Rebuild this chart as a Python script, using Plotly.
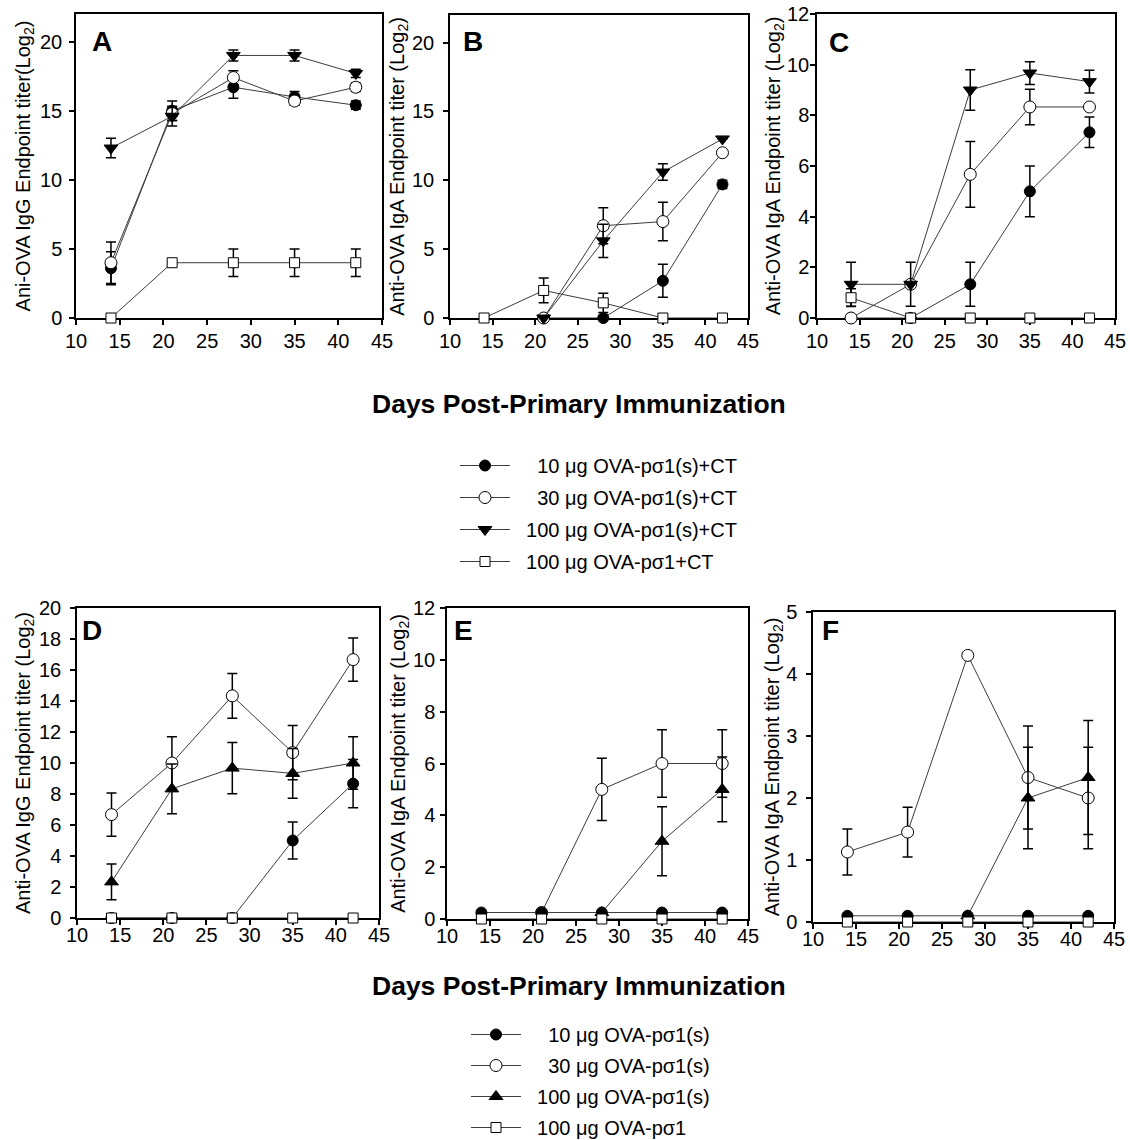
import plotly.graph_objects as go

# ---------------- data ----------------
days = [14, 21, 28, 35, 42]

# Panel A: IgG, with CT
a_10 = [3.6, 15.0, 16.7, 16.0, 15.4]
a_10_err = [1.2, 0.7, 0.8, 0.4, 0.3]
a_30 = [4.0, 14.8, 17.4, 15.7, 16.7]
a_30_err = [1.5, 0.5, 0.5, 0.3, 0.3]
a_100 = [12.3, 14.6, 19.0, 19.0, 17.7]
a_100_err = [0.7, 0.7, 0.4, 0.4, 0.3]
a_p = [0, 4, 4, 4, 4]
a_p_err = [0, 0, 1, 1, 1]

# Panel B: IgA, with CT
b_10 = [None, 0, 0, 2.7, 9.7]
b_10_err = [0, 0, 0, 1.2, 0.3]
b_30 = [None, 0, 6.7, 7.0, 12.0]
b_30_err = [0, 0, 1.3, 1.4, 0]
b_100 = [None, 0, 5.6, 10.6, 13.0]
b_100_err = [0, 0, 1.2, 0.6, 0]
b_p = [0, 2.0, 1.1, 0, 0]
b_p_err = [0, 0.9, 0.7, 0, 0]

# Panel C: IgA, with CT
c_10 = [0, 0, 1.33, 5.0, 7.33]
c_10_err = [0, 0, 0.87, 1.0, 0.6]
c_30 = [0, 1.33, 5.67, 8.33, 8.33]
c_30_err = [0, 0, 1.3, 0.7, 0]
c_100 = [1.33, 1.33, 9.0, 9.67, 9.33]
c_100_err = [0.87, 0.87, 0.8, 0.45, 0.45]
c_p = [0.8, 0, 0, 0, 0]
c_p_err = [0.35, 0, 0, 0, 0]

# Panel D: IgG, without CT
d_10 = [0, 0, 0, 5.0, 8.67]
d_10_err = [0, 0, 0, 1.2, 1.55]
d_30 = [6.67, 10.0, 14.33, 10.67, 16.67]
d_30_err = [1.4, 1.7, 1.45, 1.75, 1.4]
d_100 = [2.33, 8.33, 9.67, 9.33, 10.0]
d_100_err = [1.15, 1.6, 1.65, 1.6, 1.7]
d_p = [0, 0, 0, 0, 0]
d_p_err = [0, 0, 0, 0, 0]

# Panel E: IgA, without CT
e_10 = [0.25, 0.25, 0.25, 0.25, 0.25]
e_10_err = [0, 0, 0, 0, 0]
e_30 = [None, 0.25, 5.0, 6.0, 6.0]
e_30_err = [0, 0, 1.2, 1.3, 1.3]
e_100 = [None, None, 0.25, 3.0, 5.0]
e_100_err = [0, 0, 0, 1.33, 1.25]
e_p = [0, 0, 0, 0, 0]
e_p_err = [0, 0, 0, 0, 0]

# Panel F: IgA, without CT
f_10 = [0.1, 0.1, 0.1, 0.1, 0.1]
f_10_err = [0, 0, 0, 0, 0]
f_30 = [1.13, 1.45, 4.3, 2.33, 2.0]
f_30_err = [0.37, 0.4, 0, 0.83, 0.82]
f_100 = [None, None, 0.1, 2.0, 2.33]
f_100_err = [0, 0, 0, 0.82, 0.92]
f_p = [0, 0, 0, 0, 0]
f_p_err = [0, 0, 0, 0, 0]

NB = "\u00a0"
top_names = [NB * 4 + "10 μg OVA-pσ1(s)+CT", NB * 4 + "30 μg OVA-pσ1(s)+CT",
             NB * 2 + "100 μg OVA-pσ1(s)+CT", NB * 2 + "100 μg OVA-pσ1+CT"]
bot_names = [NB * 4 + "10 μg OVA-pσ1(s)", NB * 4 + "30 μg OVA-pσ1(s)",
             NB * 2 + "100 μg OVA-pσ1(s)", NB * 2 + "100 μg OVA-pσ1"]

x_title = "Days Post-Primary Immunization"
y_titles = ["Ani-OVA IgG Endpoint titer(Log<sub>2</sub>)",
            "Anti-OVA IgA Endpoint titer (Log<sub>2</sub>)",
            "Anti-OVA IgA Endpoint titer (Log<sub>2</sub>)",
            "Anti-OVA IgG Endpoint titer (Log<sub>2</sub>)",
            "Anti-OVA IgA Endpoint titer (Log<sub>2</sub>)",
            "Anti-OVA IgA Endpoint titer (Log<sub>2</sub>)"]
panel_letters = ["A", "B", "C", "D", "E", "F"]
y_ranges = [22, 22, 12, 20, 12, 5]
y_dticks = [5, 5, 2, 2, 2, 1]

# ---------------- layout geometry (pixels from top-left) ----------------
W, H = 1130, 1170   # figure a little taller than the window; page is cropped at 1140
FONT = "Arial, Liberation Sans, sans-serif"
boxes = [  # x0, x1, ytop, ybottom
    (76, 382, 14, 318),
    (450, 748, 15, 318),
    (817, 1115, 14, 318),
    (77, 379, 608, 918),
    (447, 748, 608, 919),
    (813, 1114, 612, 922),
]
ylab_standoff = [3, 5, -3, 5, 1, 5]
ytitle_standoff = [4, 2, 0, 3, 2, 0]
xlab_standoff = [-1, -1, -1, -7, -7, -7]
letter_pos = [(90, 42), (461, 42), (827, 43), (80, 630), (452, 630), (820, 630)]

LINE_COL = "#3c3c3c"

styles = {
    "10": dict(symbol="circle", size=11, color="black"),
    "30": dict(symbol="circle", size=12, color="white"),
    "100t": dict(symbol="triangle-down", size=12, color="black"),
    "100b": dict(symbol="triangle-up", size=12, color="black"),
    "p": dict(symbol="square", size=10, color="white"),
}

fig = go.Figure()


def add(panel, y, err, key, name, group, legend, showlegend):
    st = styles[key]
    ax = "" if panel == 0 else str(panel + 1)
    fig.add_trace(go.Scatter(
        x=days, y=y,
        mode="lines+markers",
        line=dict(color=LINE_COL, width=1),
        marker=dict(symbol=st["symbol"], size=st["size"], color=st["color"],
                    line=dict(color="black", width=1)),
        error_y=dict(type="data", array=[e if e else None for e in err], visible=True,
                     color="black", thickness=1.5, width=5),
        xaxis="x" + ax, yaxis="y" + ax,
        cliponaxis=False,
        name=name, legendgroup=group, legend=legend, showlegend=showlegend,
    ))


top_data = [
    [(a_10, a_10_err, "10"), (a_30, a_30_err, "30"), (a_100, a_100_err, "100t"), (a_p, a_p_err, "p")],
    [(b_10, b_10_err, "10"), (b_30, b_30_err, "30"), (b_100, b_100_err, "100t"), (b_p, b_p_err, "p")],
    [(c_10, c_10_err, "10"), (c_30, c_30_err, "30"), (c_100, c_100_err, "100t"), (c_p, c_p_err, "p")],
]
for pi, series in enumerate(top_data):
    for si, (y, err, key) in enumerate(series):
        add(pi, y, err, key, top_names[si], "t%d" % si, "legend", pi == 0)

# panel D first, in legend order
d_series = [(d_10, d_10_err, "10"), (d_30, d_30_err, "30"), (d_100, d_100_err, "100b"), (d_p, d_p_err, "p")]
for si, (y, err, key) in enumerate(d_series):
    add(3, y, err, key, bot_names[si], "b%d" % si, "legend2", True)
# panels E, F: draw open, triangle, then filled on top, then squares
for pi, series in [(4, [(e_30, e_30_err, "30", 1), (e_100, e_100_err, "100b", 2),
                        (e_10, e_10_err, "10", 0), (e_p, e_p_err, "p", 3)]),
                   (5, [(f_30, f_30_err, "30", 1), (f_100, f_100_err, "100b", 2),
                        (f_10, f_10_err, "10", 0), (f_p, f_p_err, "p", 3)])]:
    for y, err, key, si in series:
        add(pi, y, err, key, bot_names[si], "b%d" % si, "legend2", False)

axis_common = dict(showline=True, linecolor="black", linewidth=1.5, mirror=True,
                   ticks="outside", ticklen=5, tickwidth=1.5, tickcolor="black",
                   showgrid=False, zeroline=False, layer="below traces",
                   tickfont=dict(family=FONT, size=20, color="black"))

layout = dict(
    width=W, height=H,
    margin=dict(l=0, r=0, t=0, b=0, autoexpand=False),
    paper_bgcolor="white", plot_bgcolor="white",
    font=dict(family=FONT, color="black"),
    annotations=[],
)

for i, (x0, x1, yt, yb) in enumerate(boxes):
    ax = "" if i == 0 else str(i + 1)
    layout["xaxis" + ax] = dict(
        axis_common, domain=[x0 / W, x1 / W], range=[10, 45], dtick=5, tick0=10,
        anchor="y" + ax, ticklabelstandoff=xlab_standoff[i])
    layout["yaxis" + ax] = dict(
        axis_common, domain=[1 - yb / H, 1 - yt / H], range=[0, y_ranges[i]],
        dtick=y_dticks[i], tick0=0, anchor="x" + ax, ticklabelstandoff=ylab_standoff[i],
        title=dict(text=y_titles[i], font=dict(family=FONT, size=20, color="black"),
                   standoff=ytitle_standoff[i]))
    lx, ly = letter_pos[i]
    layout["annotations"].append(dict(
        text="<b>%s</b>" % panel_letters[i], x=lx / W, y=1 - ly / H,
        xref="paper", yref="paper", xanchor="left", yanchor="middle",
        showarrow=False, font=dict(family=FONT, size=28, color="black")))

for cy in (404, 986):
    layout["annotations"].append(dict(
        text="<b>%s</b>" % x_title, x=579 / W, y=1 - cy / H,
        xref="paper", yref="paper", xanchor="center", yanchor="middle",
        showarrow=False, font=dict(family=FONT, size=26.5, color="black")))

leg_common = dict(xanchor="left", yanchor="top", bgcolor="rgba(0,0,0,0)",
                  font=dict(family=FONT, size=20, color="black"),
                  itemwidth=50, traceorder="grouped")
layout["legend"] = dict(leg_common, x=455 / W, y=1 - 446 / H, tracegroupgap=3)
layout["legend2"] = dict(leg_common, x=466 / W, y=1 - 1015 / H, tracegroupgap=2)

fig.update_layout(**layout)

fig.write_html("out.html", config={"displayModeBar": False},
               post_script="document.body.style.margin='0';document.body.style.overflow='hidden';")
